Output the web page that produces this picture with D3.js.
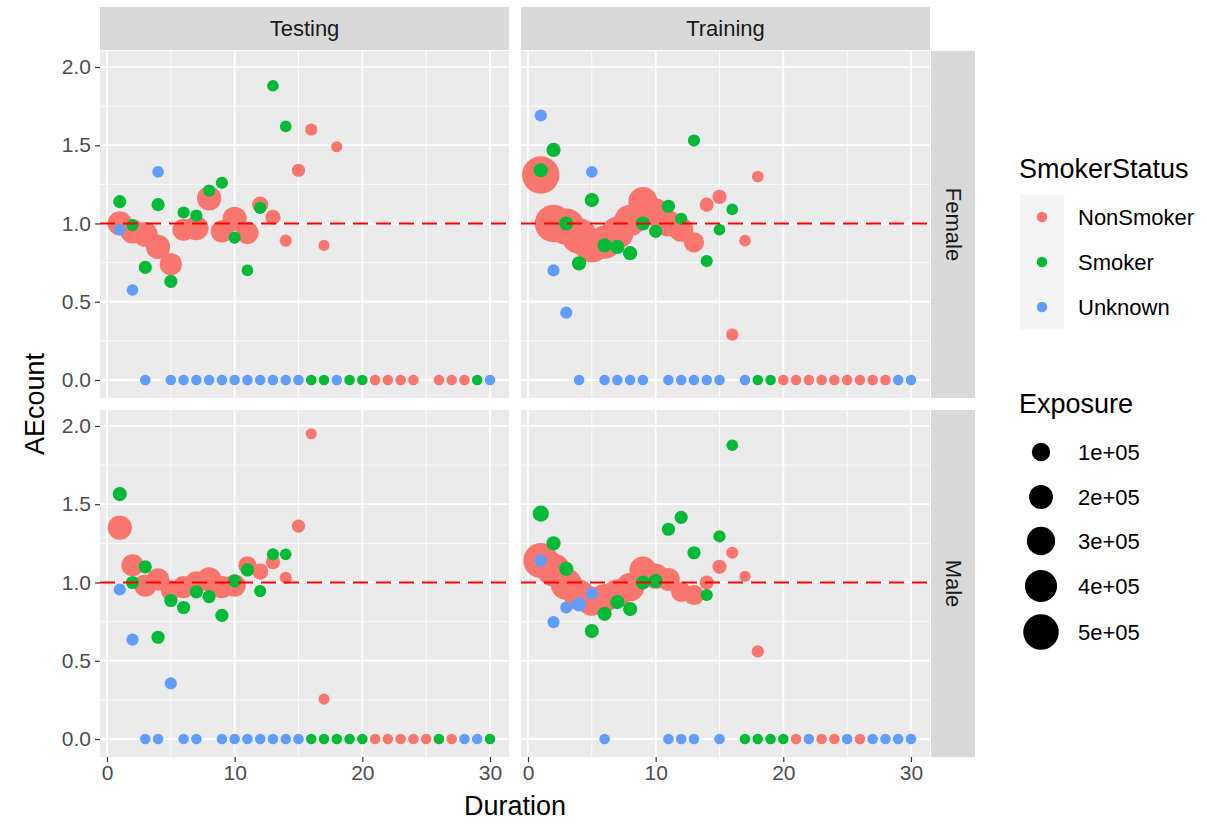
<!DOCTYPE html>
<html><head><meta charset="utf-8">
<script src="https://cdn.jsdelivr.net/npm/d3@7"></script>
<style>body{margin:0;background:#fff}svg{display:block;font-family:"Liberation Sans",Arial,sans-serif}</style>
</head><body>
<svg id="chart" width="1207" height="825"></svg>
<script>
const splits = ["Testing", "Training"];
const genders = ["Female", "Male"];
const statuses = ["NonSmoker", "Smoker", "Unknown"];
const statusColors = ["#F8766D", "#00BA38", "#619CFF"];
const xTicks = [0, 10, 20, 30];
const xMinor = [5, 15, 25];
const yTicks = [0, 0.5, 1, 1.5, 2];
const yMinor = [0.25, 0.75, 1.25, 1.75];
const exposureBreaks = [1e5, 2e5, 3e5, 4e5, 5e5];
const exposureLabels = ["1e+05", "2e+05", "3e+05", "4e+05", "5e+05"];
const refLine = 1;

// each row: [Duration, AEcount, Exposure]
const testingFemaleNonSmoker = [[1,1.00,207700],[2,0.95,207700],[3,0.93,220000],[4,0.85,207700],[5,0.74,167000],[6,0.96,167000],[7,0.97,207700],[8,1.16,207700],[9,0.95,167000],[10,1.03,207700],[11,0.94,167000],[12,1.12,66900],[13,1.04,53000],[14,0.89,17600],[15,1.34,28600],[16,1.60,17600],[17,0.86,7000],[18,1.49,7000],
  [21,0,2000],[22,0,2000],[23,0,2000],[24,0,2000],[26,0,2000],[27,0,2000],[28,0,2000]];
const testingFemaleSmoker = [[1,1.14,28600],[2,0.99,17600],[3,0.72,28600],[4,1.12,28600],[5,0.63,28600],[6,1.07,17600],[7,1.05,17600],[8,1.21,17600],[9,1.26,17600],[10,0.91,17600],[11,0.70,12000],[12,1.10,17600],[13,1.88,12000],[14,1.62,12000],
  [16,0,2000],[17,0,2000],[19,0,2000],[20,0,2000],[29,0,2000]];
const testingFemaleUnknown = [[1,0.96,12000],[2,0.575,12000],[4,1.33,12000],
  [3,0,2000],[5,0,2000],[6,0,2000],[7,0,2000],[8,0,2000],[9,0,2000],[10,0,2000],[11,0,2000],[12,0,2000],[13,0,2000],[14,0,2000],[15,0,2000],[18,0,2000],[30,0,2000]];

const trainingFemaleNonSmoker = [[1,1.31,557000],[2,1.00,560000],[3,0.98,524700],[4,0.92,500000],[5,0.86,463000],[6,0.88,430000],[7,0.94,404900],[8,1.02,380000],[9,1.14,320000],[10,1.07,299300],[11,1.00,251800],[12,0.96,207700],[13,0.88,130300],[14,1.12,40500],[15,1.17,40500],[16,0.29,17600],[17,0.89,12000],[18,1.30,12000],
  [20,0,2000],[21,0,2000],[22,0,2000],[23,0,2000],[24,0,2000],[25,0,2000],[26,0,2000],[27,0,2000],[28,0,2000]];
const trainingFemaleSmoker = [[1,1.34,40500],[2,1.47,40500],[3,1.00,40500],[4,0.745,40500],[5,1.15,40500],[6,0.86,40500],[7,0.85,40500],[8,0.81,40500],[9,1.00,40500],[10,0.95,28600],[11,1.11,28600],[12,1.03,17600],[13,1.53,17600],[14,0.76,17600],[15,0.96,12000],[16,1.09,12000],
  [18,0,2000],[19,0,2000]];
const trainingFemaleUnknown = [[1,1.69,17600],[2,0.70,17600],[3,0.43,17600],[5,1.33,12000],
  [4,0,2000],[6,0,2000],[7,0,2000],[8,0,2000],[9,0,2000],[11,0,2000],[12,0,2000],[13,0,2000],[14,0,2000],[15,0,2000],[17,0,2000],[29,0,2000],[30,0,2000]];

const testingMaleNonSmoker = [[1,1.35,207700],[2,1.11,167000],[3,0.98,167000],[4,1.02,167000],[5,0.95,130300],[6,0.97,167000],[7,1.00,167000],[8,1.02,207700],[9,0.97,167000],[10,0.98,167000],[11,1.11,96800],[12,1.07,66900],[13,1.13,40500],[14,1.03,17600],[15,1.36,28600],[16,1.95,7000],[17,0.255,7000],
  [21,0,2000],[22,0,2000],[23,0,2000],[24,0,2000],[25,0,2000],[27,0,2000]];
const testingMaleSmoker = [[1,1.565,40500],[2,1.00,28600],[3,1.10,28600],[4,0.65,28600],[5,0.885,28600],[6,0.84,28600],[7,0.94,28600],[8,0.91,28600],[9,0.79,28600],[10,1.01,28600],[11,1.08,28600],[12,0.945,17600],[13,1.18,17600],[14,1.18,12000],
  [16,0,2000],[17,0,2000],[18,0,2000],[19,0,2000],[20,0,2000],[26,0,2000],[30,0,2000]];
const testingMaleUnknown = [[1,0.955,17600],[2,0.635,17600],[5,0.355,17600],
  [3,0,2000],[4,0,2000],[6,0,2000],[7,0,2000],[9,0,2000],[10,0,2000],[11,0,2000],[12,0,2000],[13,0,2000],[14,0,2000],[15,0,2000],[28,0,2000],[29,0,2000]];

const trainingMaleNonSmoker = [[1,1.14,480000],[2,1.08,430000],[3,0.99,380000],[4,0.92,350400],[5,0.88,320000],[6,0.90,299300],[7,0.93,299300],[8,0.97,299300],[9,1.08,270000],[10,1.04,230000],[11,1.02,180000],[12,0.94,130300],[13,0.92,130300],[14,1.00,40500],[15,1.10,40500],[16,1.19,17600],[17,1.04,7000],[18,0.56,17600],
  [21,0,2000],[23,0,2000],[24,0,2000],[26,0,2000]];
const trainingMaleSmoker = [[1,1.44,66900],[2,1.25,40500],[3,1.087,40500],[5,0.69,40500],[6,0.80,40500],[7,0.875,40500],[8,0.83,40500],[9,1.00,40500],[10,1.01,40500],[11,1.34,28600],[12,1.416,28600],[13,1.19,28600],[14,0.92,17600],[15,1.295,17600],[16,1.877,12000],
  [17,0,2000],[18,0,2000],[19,0,2000],[20,0,2000]];
const trainingMaleUnknown = [[1,1.14,17600],[2,0.747,17600],[3,0.84,17600],[4,0.86,40500],[5,0.93,17600],
  [6,0,2000],[11,0,2000],[12,0,2000],[13,0,2000],[15,0,2000],[22,0,2000],[25,0,2000],[27,0,2000],[28,0,2000],[29,0,2000],[30,0,2000]];

const panelData = {
  "Testing|Female": [testingFemaleNonSmoker, testingFemaleSmoker, testingFemaleUnknown],
  "Training|Female": [trainingFemaleNonSmoker, trainingFemaleSmoker, trainingFemaleUnknown],
  "Testing|Male": [testingMaleNonSmoker, testingMaleSmoker, testingMaleUnknown],
  "Training|Male": [trainingMaleNonSmoker, trainingMaleSmoker, trainingMaleUnknown]
};

const svg = d3.select("#chart");
const colX = [100, 521], panelW = 409;
const rowY = [51, 410], panelH = 347;
const color = d3.scaleOrdinal().domain(statuses).range(statusColors);
const sizeArea = d3.scaleLinear().domain([0, 5e5]).range([27, 316]);
const radius = v => Math.sqrt(sizeArea(v));
const smallFont = 21, titleFont = 27;

const defs = svg.append("defs");

splits.forEach((sp, ci) => {
  genders.forEach((g, ri) => {
    const x0 = colX[ci], y0 = rowY[ri];
    const x = d3.scaleLinear().domain([-0.548, 31.49]).range([x0, x0 + panelW]);
    const y = d3.scaleLinear().domain([-0.115, 2.102]).range([y0 + panelH, y0]);
    const id = "clip" + ci + ri;
    defs.append("clipPath").attr("id", id).append("rect")
      .attr("x", x0).attr("y", y0).attr("width", panelW).attr("height", panelH);
    const gp = svg.append("g");
    gp.append("rect").attr("x", x0).attr("y", y0).attr("width", panelW).attr("height", panelH).attr("fill", "#EBEBEB");
    gp.selectAll(".ymn").data(yMinor).join("line").attr("x1", x0).attr("x2", x0 + panelW)
      .attr("y1", d => y(d)).attr("y2", d => y(d)).attr("stroke", "#fff").attr("stroke-width", 0.9);
    gp.selectAll(".xmn").data(xMinor).join("line").attr("y1", y0).attr("y2", y0 + panelH)
      .attr("x1", d => x(d)).attr("x2", d => x(d)).attr("stroke", "#fff").attr("stroke-width", 0.9);
    gp.selectAll(".ymj").data(yTicks).join("line").attr("x1", x0).attr("x2", x0 + panelW)
      .attr("y1", d => y(d)).attr("y2", d => y(d)).attr("stroke", "#fff").attr("stroke-width", 1.8);
    gp.selectAll(".xmj").data(xTicks).join("line").attr("y1", y0).attr("y2", y0 + panelH)
      .attr("x1", d => x(d)).attr("x2", d => x(d)).attr("stroke", "#fff").attr("stroke-width", 1.8);

    const pts = svg.append("g").attr("clip-path", `url(#${id})`);
    panelData[sp + "|" + g].forEach((arr, si) => {
      pts.append("g").selectAll("circle").data(arr).join("circle")
        .attr("cx", d => x(d[0])).attr("cy", d => y(d[1])).attr("r", d => radius(d[2]))
        .attr("fill", color(statuses[si]));
    });
    pts.append("line").attr("x1", x0).attr("x2", x0 + panelW)
      .attr("y1", y(refLine)).attr("y2", y(refLine))
      .attr("stroke", "#FF0000").attr("stroke-width", 2.2).attr("stroke-dasharray", "15,8");

    if (ci === 0) {
      const ax = svg.append("g").attr("transform", `translate(${x0},0)`)
        .call(d3.axisLeft(y).tickValues(yTicks).tickFormat(d3.format(".1f")).tickSize(5).tickPadding(4));
      ax.select(".domain").remove();
      ax.selectAll("line").attr("stroke", "#333333").attr("stroke-width", 1.2);
      ax.selectAll("text").attr("fill", "#4D4D4D").style("font-size", smallFont + "px").style("font-family", '"Liberation Sans", Arial, sans-serif');
    }
    if (ri === 1) {
      const ax = svg.append("g").attr("transform", `translate(0,${y0 + panelH})`)
        .call(d3.axisBottom(x).tickValues(xTicks).tickFormat(d3.format("d")).tickSize(5).tickPadding(3));
      ax.select(".domain").remove();
      ax.selectAll("line").attr("stroke", "#333333").attr("stroke-width", 1.2);
      ax.selectAll("text").attr("fill", "#4D4D4D").style("font-size", smallFont + "px").style("font-family", '"Liberation Sans", Arial, sans-serif');
    }
  });
});

// top strips
splits.forEach((sp, ci) => {
  svg.append("rect").attr("x", colX[ci]).attr("y", 7).attr("width", panelW).attr("height", 43).attr("fill", "#D9D9D9");
  svg.append("text").attr("x", colX[ci] + panelW / 2).attr("y", 28.5).attr("text-anchor", "middle")
    .attr("dominant-baseline", "central").attr("fill", "#1A1A1A").style("font-size", "22px").text(sp);
});
// right strips
genders.forEach((g, ri) => {
  svg.append("rect").attr("x", 931).attr("y", rowY[ri]).attr("width", 44).attr("height", panelH).attr("fill", "#D9D9D9");
  svg.append("text").attr("transform", `translate(953,${rowY[ri] + panelH / 2}) rotate(90)`)
    .attr("text-anchor", "middle").attr("dominant-baseline", "central").attr("fill", "#1A1A1A")
    .style("font-size", "22px").text(g);
});

// axis titles
svg.append("text").attr("transform", `translate(35,${(rowY[0] + rowY[1] + panelH) / 2}) rotate(-90)`)
  .attr("text-anchor", "middle").attr("dominant-baseline", "central").style("font-size", titleFont + "px").text("AEcount");
svg.append("text").attr("x", (colX[0] + colX[1] + panelW) / 2).attr("y", 806)
  .attr("text-anchor", "middle").attr("dominant-baseline", "central").style("font-size", titleFont + "px").text("Duration");

// legend: SmokerStatus
const lg = svg.append("g");
lg.append("text").attr("x", 1019).attr("y", 169).attr("dominant-baseline", "central")
  .style("font-size", titleFont + "px").text("SmokerStatus");
const keyY = [217, 262, 307];
statuses.forEach((s, i) => {
  lg.append("rect").attr("x", 1020).attr("y", keyY[i] - 22.5).attr("width", 44).attr("height", 45).attr("fill", "#F4F4F4");
});
statuses.forEach((s, i) => {
  lg.append("circle").attr("cx", 1042).attr("cy", keyY[i]).attr("r", 5.2).attr("fill", color(s));
  lg.append("text").attr("x", 1078).attr("y", keyY[i]).attr("dominant-baseline", "central")
    .style("font-size", "22px").text(s);
});
// legend: Exposure
lg.append("text").attr("x", 1019).attr("y", 404).attr("dominant-baseline", "central")
  .style("font-size", titleFont + "px").text("Exposure");
const sizeKeyY = [452, 497, 541, 586, 632];
exposureBreaks.forEach((b, i) => {
  lg.append("circle").attr("cx", 1041).attr("cy", sizeKeyY[i]).attr("r", radius(b)).attr("fill", "#000");
  lg.append("text").attr("x", 1078).attr("y", sizeKeyY[i]).attr("dominant-baseline", "central")
    .style("font-size", "22px").text(exposureLabels[i]);
});
</script>
</body></html>
